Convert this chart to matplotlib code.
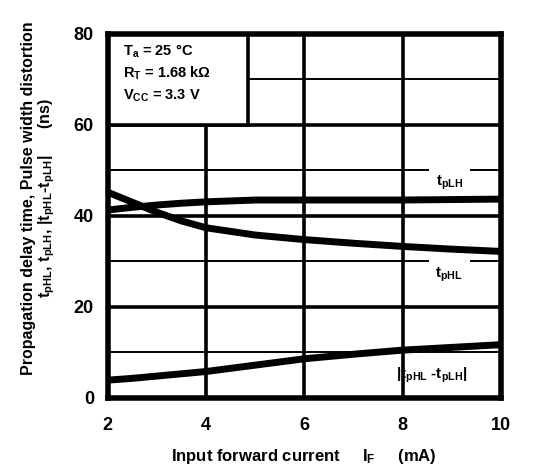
import numpy as np
import matplotlib
matplotlib.use("Agg")
import matplotlib.pyplot as plt
from matplotlib.patches import Rectangle

plt.rcParams['font.family'] = ['Liberation Sans', 'DejaVu Sans']
plt.rcParams['mathtext.default'] = 'regular'

# values
i_f = [2, 2.5, 3, 3.5, 4, 5, 6, 7, 8, 9, 10]
t_plh = [41.3, 41.9, 42.4, 42.8, 43.1, 43.5, 43.5, 43.5, 43.5, 43.6, 43.7]
t_phl = [45.2, 43.0, 40.8, 38.9, 37.4, 35.8, 34.8, 34.0, 33.3, 32.7, 32.2]
t_diff = [3.9, 4.3, 4.8, 5.3, 5.8, 7.2, 8.6, 9.6, 10.5, 11.1, 11.7]

xticks = [2, 4, 6, 8, 10]
yticks = [0, 20, 40, 60, 80]

fig = plt.figure(figsize=(5.42, 4.72), dpi=100)
ax = fig.add_axes([0.199, 0.157, 0.725, 0.771])

ax.set_xlim(2, 10)
ax.set_ylim(0, 80)
ax.set_xticks(xticks)
ax.set_yticks(yticks)
ax.set_yticks([10, 30, 50, 70], minor=True)
ax.tick_params(which='both', length=0)
ax.tick_params(axis='x', pad=14)
ax.tick_params(axis='y', pad=10)
for lab in ax.get_xticklabels() + ax.get_yticklabels():
    lab.set_fontsize(13)
    lab.set_fontweight('bold')

ax.grid(which='major', color='black', lw=2.6, zorder=1)
ax.grid(which='minor', axis='y', color='black', lw=1.4, zorder=1)
ax.set_axisbelow(True)
for s in ax.spines.values():
    s.set_linewidth(4)

ax.plot(i_f, t_plh, color='black', lw=5, solid_capstyle='butt', zorder=3)
ax.plot(i_f, t_phl, color='black', lw=5, solid_capstyle='butt', zorder=3)
ax.plot(i_f, t_diff, color='black', lw=5, solid_capstyle='butt', zorder=3)

# condition box in the top-left corner
ax.add_patch(Rectangle((2, 60), 2.85, 20, facecolor='white', edgecolor='black',
                       lw=2.6, zorder=2))
cond = ['$T_a$ = 25 °C', '$R_T$ = 1.68 kΩ', '$V_{CC}$ = 3.3 V']
for k, c in enumerate(cond):
    ax.text(2.3, 76.3 - k * 4.9, c, fontsize=10.5, fontweight='bold', va='center', zorder=4)

box = dict(facecolor='white', edgecolor='none', pad=5)
ax.text(8.95, 47.3, '$t_{pLH}$', fontsize=11, fontweight='bold', ha='center', va='center',
        bbox=box, zorder=2)
ax.text(8.95, 27.0, '$t_{pHL}$', fontsize=11, fontweight='bold', ha='center', va='center',
        bbox=box, zorder=2)
ax.text(8.6, 5.0, '|$t_{pHL}$ -$t_{pLH}$|', fontsize=11, fontweight='bold', ha='center',
        va='center', zorder=4)

ax.set_xlabel('Input forward current     $I_F$     (mA)', fontsize=12, fontweight='bold')
ax.xaxis.set_label_coords(0.5, -0.135)
ax.set_ylabel('Propagation delay time, Pulse width distortion\n'
              '$t_{pHL}$, $t_{pLH}$, |$t_{pHL}$-$t_{pLH}$|      (ns)',
              fontsize=11.5, fontweight='bold', linespacing=1.0)
ax.yaxis.set_label_coords(-0.13, 0.55)

fig.savefig('out.png', dpi=100)
